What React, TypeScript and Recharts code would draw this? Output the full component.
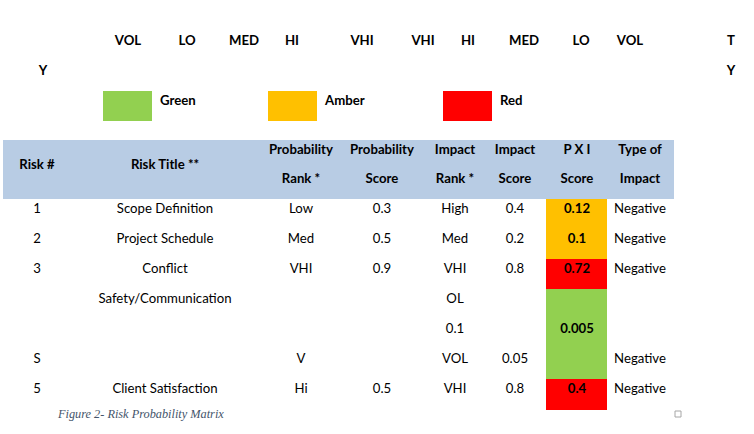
import { ReferenceArea, Scatter, ScatterChart, XAxis, YAxis } from "recharts";

// top scale, mirrored probability / impact levels
const topLevels = ["VOL", "LO", "MED", "HI", "VHI", "VHI", "HI", "MED", "LO", "VOL", "T"];
const sideLabels = ["Y", "Y"];

// colour bands for the P x I score
const bandNames = ["Green", "Amber", "Red"];
const bandColors = ["#92d050", "#ffc000", "#ff0000"];
const bandMins = [0, 0.1, 0.4];

const headers = [
  ["Risk #"],
  ["Risk Title **"],
  ["Probability", "Rank *"],
  ["Probability", "Score"],
  ["Impact", "Rank *"],
  ["Impact", "Score"],
  ["P X I", "Score"],
  ["Type of", "Impact"],
];

// one entry per printed line of the table
const riskNumbers = ["1", "2", "3", "", "", "S", "5"];
const riskTitles = ["Scope Definition", "Project Schedule", "Conflict", "Safety/Communication", "", "", "Client Satisfaction"];
const probRanks = ["Low", "Med", "VHI", "", "", "V", "Hi"];
const probScores = ["0.3", "0.5", "0.9", "", "", "", "0.5"];
const impactRanks = ["High", "Med", "VHI", "OL", "0.1", "VOL", "VHI"];
const impactScores = ["0.4", "0.2", "0.8", "", "", "0.05", "0.8"];
const pxiScores = ["0.12", "0.1", "0.72", "", "0.005", "", "0.4"];
const impactTypes = ["Negative", "Negative", "Negative", "", "", "Negative", "Negative"];

// P x I cells: score and the table lines each one covers
const pxiCells = [
  { score: 0.12, first: 0, last: 0 },
  { score: 0.1, first: 1, last: 1 },
  { score: 0.72, first: 2, last: 2 },
  { score: 0.005, first: 3, last: 5 },
  { score: 0.4, first: 6, last: 6 },
];

const caption = "Figure 2- Risk Probability Matrix";

// layout
const W = 754;
const H = 434;
const TOP_X = [128, 187, 244, 292, 362, 423, 468, 524, 581, 630, 731];
const SIDE_X = [43, 731];
const COL_X = [37, 165, 301, 382, 455, 515, 577, 640];
const LEGEND_X = [103, 268, 443];
const FONT = "Lato, 'Open Sans', sans-serif";

function bandOf(score: number) {
  let idx = 0;
  bandMins.forEach((m, i) => {
    if (score >= m) idx = i;
  });
  return idx;
}

const lineY = (i: number) => 208 + 30 * i;

type Label = { x: number; y: number; text: string; bold?: boolean; anchor?: string; italic?: boolean };

const labels: Label[] = [];
topLevels.forEach((t, i) => labels.push({ x: TOP_X[i], y: 40, text: t, bold: true }));
sideLabels.forEach((t, i) => labels.push({ x: SIDE_X[i], y: 70, text: t, bold: true }));
bandNames.forEach((t, i) => labels.push({ x: LEGEND_X[i] + 57, y: 100, text: t, bold: true, anchor: "start" }));
headers.forEach((h, i) => {
  if (h.length === 1) labels.push({ x: COL_X[i], y: 164, text: h[0], bold: true });
  else h.forEach((t, j) => labels.push({ x: COL_X[i], y: 149 + 29 * j, text: t, bold: true }));
});
[riskNumbers, riskTitles, probRanks, probScores, impactRanks, impactScores, pxiScores, impactTypes].forEach(
  (col, c) =>
    col.forEach((t, r) => {
      if (t) labels.push({ x: COL_X[c], y: lineY(r), text: t, bold: c === 6 });
    })
);
labels.push({ x: 58, y: 414, text: caption, anchor: "start", italic: true });

const TextMark = (props: any) => {
  const p: Label = props.payload;
  if (p.italic) {
    return (
      <text x={props.cx} y={props.cy} dy="0.35em" textAnchor="start" fontFamily="'Liberation Serif', serif"
        fontStyle="italic" fontSize={12.3} fill="#44546a">
        {p.text}
      </text>
    );
  }
  return (
    <text x={props.cx} y={props.cy} dy="0.35em" textAnchor={p.anchor || "middle"} fontFamily={FONT}
      fontWeight={p.bold ? 700 : 400} fontSize={13.2} fill="#000">
      {p.text}
    </text>
  );
};

export default function App() {
  return (
    <div style={{ position: "absolute", left: 0, top: 0, width: W, height: H, background: "#fff" }}>
      <ScatterChart width={W} height={H} margin={{ top: 0, right: 0, bottom: 0, left: 0 }}>
        <XAxis type="number" dataKey="x" domain={[0, W]} hide />
        <YAxis type="number" dataKey="y" domain={[0, H]} reversed hide />
        {bandColors.map((c, i) => (
          <ReferenceArea key={c} x1={LEGEND_X[i]} x2={LEGEND_X[i] + 49} y1={91} y2={121} fill={c} fillOpacity={1} stroke="none" />
        ))}
        <ReferenceArea x1={3} x2={674} y1={140} y2={199} fill="#b8cce4" fillOpacity={1} stroke="none" />
        {pxiCells.map((cell) => (
          <ReferenceArea
            key={cell.first}
            x1={546}
            x2={607}
            y1={lineY(cell.first) - 9}
            y2={lineY(cell.last) + 22}
            fill={bandColors[bandOf(cell.score)]}
            fillOpacity={1}
            stroke="none"
          />
        ))}
        <ReferenceArea x1={675} x2={681} y1={411} y2={417} fill="none" stroke="#a6a6a6" strokeWidth={1} />
        <Scatter data={labels} shape={TextMark} isAnimationActive={false} />
      </ScatterChart>
    </div>
  );
}
